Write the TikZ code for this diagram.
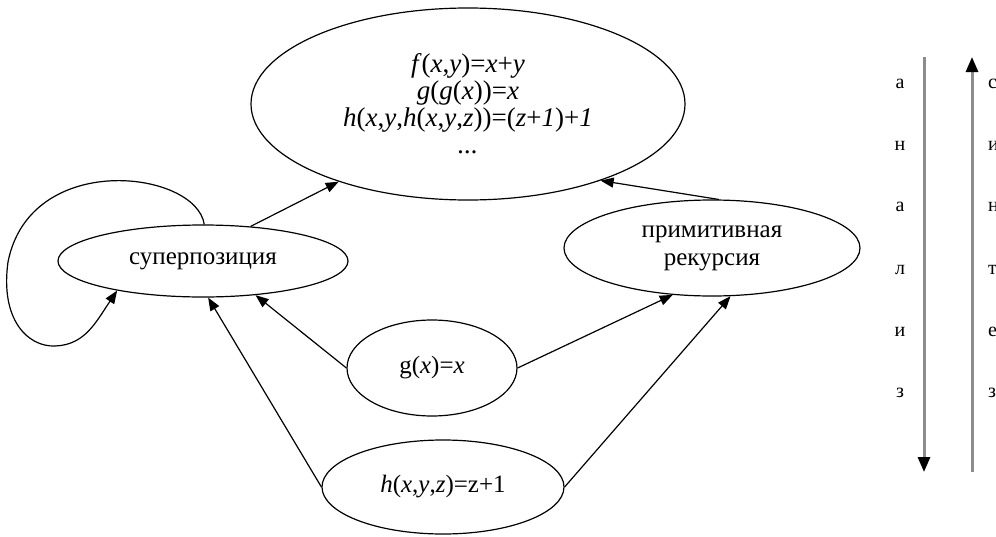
\documentclass[tikz,border=0pt]{standalone}
\usepackage{fontspec}
\setmainfont{Liberation Serif}
\usetikzlibrary{shapes.geometric,arrows.meta}
\begin{document}
\begin{tikzpicture}[x=1pt,y=-1pt,
  ell/.style={ellipse,draw,line width=1.2pt,inner sep=0pt,align=center,font=\fontsize{25}{28}\selectfont},
  arr/.style={line width=1.2pt,-{Triangle[length=13pt,width=10pt]}},
  bigarr/.style={line width=3pt,draw=black!45,-{Triangle[length=15pt,width=12pt,color=black]}},
  lett/.style={font=\fontsize{20}{22}\selectfont,inner sep=0pt}]
\useasboundingbox (0,0) rectangle (996,536);
\fill[white] (0,0) rectangle (996,536);

\node[ell,minimum width=434pt,minimum height=192pt,font=\fontsize{27}{27}\selectfont] (top) at (468,104)
  {\textit{f}(\textit{x},\textit{y})=\textit{x}+\textit{y}\\
   \textit{g}(\textit{g}(\textit{x}))=\textit{x}\\
   \textit{h}(\textit{x},\textit{y},\textit{h}(\textit{x},\textit{y},\textit{z}))=(\textit{z}+\textit{1})+\textit{1}\\
   \textit{...}};
\node[ell,minimum width=290pt,minimum height=72pt] (sup) at (203,261) {суперпозиция};
\node[ell,minimum width=296pt,minimum height=96pt] (prim) at (712,248) {примитивная\\рекурсия};
\node[ell,minimum width=170pt,minimum height=96pt] (g) at (432,368) {g(\textit{x})=\textit{x}};
\node[ell,minimum width=242pt,minimum height=94pt] (h) at (443,487) {\textit{h}(\textit{x},\textit{y},\textit{z})=z+1};

\draw[arr] (sup.36) -- (top.211);
\draw[arr] (prim.82) -- (top.330);
\draw[arr] (g.west) -- (sup.327);
\draw[arr] (g.east) -- (prim.230);
\draw[arr] (h.west) -- (sup.278);
\draw[arr] (h.east) -- (prim.291);
\draw[arr] (sup.88) .. controls (196,170) and (30,150) .. (8,262)
  .. controls (0,320) and (28,347) .. (55,346)
  .. controls (85,345) and (96,322) .. (sup.199);

\coordinate (a1) at (924,57);
\coordinate (a2) at (924,472);
\coordinate (s1) at (972,472);
\coordinate (s2) at (972,57);
\draw[bigarr] (a1) -- (a2);
\draw[bigarr] (s1) -- (s2);

\foreach \l/\y [count=\i] in {а/84,н/146,а/207,л/270,и/332,з/393}
  \node[lett] (al\i) at (900,\y) {\l};
\foreach \l/\y [count=\i] in {с/84,и/146,н/207,т/270,е/332,з/393}
  \node[lett,anchor=west] (sl\i) at (988,\y) {\l};
\end{tikzpicture}
\end{document}
